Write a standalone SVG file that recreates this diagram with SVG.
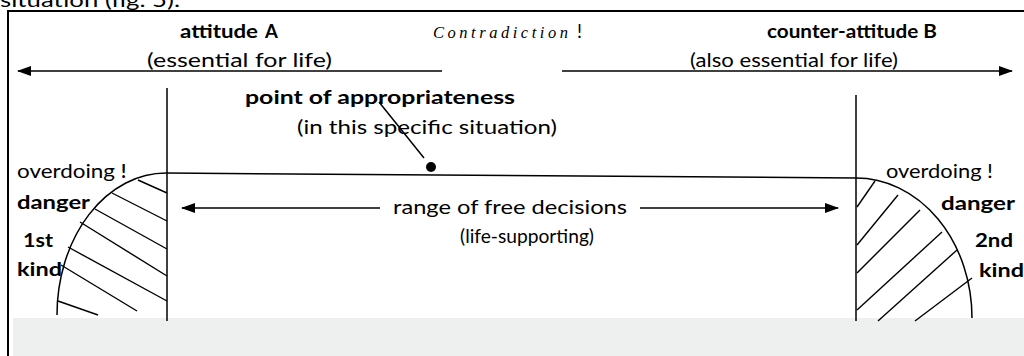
<svg xmlns="http://www.w3.org/2000/svg" width="1024" height="356" viewBox="0 0 1024 356">
  <style>
    text { font-family: Lato, "Open Sans", "Liberation Sans", sans-serif; fill: #000; }
    .n { font-size: 18.5px; }
    .b { font-size: 18.5px; font-weight: bold; }
    .it { font-family: "Liberation Serif", serif; font-style: italic; font-size: 16.5px; }
    .ln { stroke: #000; stroke-width: 1.5; fill: none; }
    .hatch { stroke: #000; stroke-width: 1.4; fill: none; }
  </style>
  <defs>
    <marker id="arrow" viewBox="0 0 14 10" refX="13" refY="5" markerWidth="14" markerHeight="10" markerUnits="userSpaceOnUse" orient="auto">
      <path d="M0,0 L14,5 L0,10 Z" fill="#000"/>
    </marker>
  </defs>

  <rect width="1024" height="356" fill="#fff"/>
  <!-- shaded strip along the bottom -->
  <rect x="13" y="318" width="1011" height="38" fill="#eeefef"/>
  <!-- frame (left and top edges) -->
  <path d="M8,356 V11 H1024" stroke="#000" stroke-width="2" fill="none"/>

  <!-- caption line running above the frame -->
  <text class="n" x="0" y="7" textLength="180" lengthAdjust="spacingAndGlyphs">situation (fig. 5).</text>

  <g id="attitude-a">
    <text class="b" x="180" y="38" textLength="78" lengthAdjust="spacingAndGlyphs">attitude</text>
    <text class="b" x="265" y="38">A</text>
    <text class="n" x="147" y="67" textLength="185" lengthAdjust="spacingAndGlyphs">(essential for life)</text>
  </g>

  <g id="contradiction">
    <text class="it" x="433" y="38" textLength="135" lengthAdjust="spacing">Contradiction</text>
    <text class="n" x="577" y="38">!</text>
  </g>

  <g id="attitude-b">
    <text class="b" x="767" y="38" textLength="170" lengthAdjust="spacingAndGlyphs">counter-attitude B</text>
    <text class="n" x="690" y="67" textLength="208" lengthAdjust="spacingAndGlyphs">(also essential for life)</text>
  </g>

  <g id="appropriateness">
    <text class="b" x="245" y="104" textLength="270" lengthAdjust="spacingAndGlyphs">point of appropriateness</text>
    <text class="n" x="297" y="134" textLength="260" lengthAdjust="spacingAndGlyphs">(in this specific situation)</text>
    <circle cx="431" cy="167" r="5" fill="#000"/>
  </g>

  <g id="range">
    <text class="n" x="393" y="214" textLength="234" lengthAdjust="spacingAndGlyphs">range of free decisions</text>
    <text class="n" x="460" y="243" textLength="134" lengthAdjust="spacingAndGlyphs">(life-supporting)</text>
  </g>

  <g id="danger-1">
    <text class="n" x="17" y="178" textLength="98" lengthAdjust="spacingAndGlyphs">overdoing</text>
    <text class="b" x="121" y="178">!</text>
    <text class="b" x="17" y="209" textLength="73" lengthAdjust="spacingAndGlyphs">danger</text>
    <text class="b" x="23" y="247" textLength="30" lengthAdjust="spacingAndGlyphs">1st</text>
    <text class="b" x="17" y="276" textLength="45" lengthAdjust="spacingAndGlyphs">kind</text>
    <path class="ln" d="M166,173 A109,142 0 0 0 57,315"/>
    <g class="hatch">
      <line x1="138" y1="180" x2="167" y2="193"/>
      <line x1="112" y1="193" x2="167" y2="221"/>
      <line x1="95" y1="209" x2="167" y2="249"/>
      <line x1="80" y1="222" x2="167" y2="276"/>
      <line x1="68" y1="247" x2="167" y2="301"/>
      <line x1="61" y1="265" x2="137" y2="311"/>
      <line x1="58" y1="301" x2="98" y2="315"/>
    </g>
  </g>

  <g id="danger-2">
    <text class="n" x="886" y="178" textLength="107" lengthAdjust="spacingAndGlyphs">overdoing !</text>
    <text class="b" x="941" y="210" textLength="74" lengthAdjust="spacingAndGlyphs">danger</text>
    <text class="b" x="975" y="247" textLength="38" lengthAdjust="spacingAndGlyphs">2nd</text>
    <text class="b" x="979" y="277" textLength="45" lengthAdjust="spacingAndGlyphs">kind</text>
    <path class="ln" d="M856,178 A116,140 0 0 1 972,318"/>
    <g class="hatch">
      <line x1="857" y1="207" x2="875" y2="181"/>
      <line x1="857" y1="245" x2="898" y2="195"/>
      <line x1="857" y1="273" x2="920" y2="210"/>
      <line x1="857" y1="310" x2="942" y2="232"/>
      <line x1="878" y1="321" x2="957" y2="250"/>
      <line x1="915" y1="321" x2="972" y2="278"/>
    </g>
  </g>

  <g id="connectors">
    <!-- opposing directions of the two attitudes -->
    <line class="ln" x1="442" y1="71" x2="18" y2="71" marker-end="url(#arrow)"/>
    <line class="ln" x1="562" y1="71" x2="1012" y2="71" marker-end="url(#arrow)"/>
    <!-- limits of the free range -->
    <line class="ln" x1="167" y1="88" x2="167" y2="321"/>
    <line class="ln" x1="856" y1="95" x2="856" y2="321"/>
    <!-- the balance line between the two limits -->
    <line class="ln" x1="166" y1="173" x2="856" y2="178"/>
    <!-- pointer from label to the point -->
    <line class="ln" x1="379" y1="102" x2="424" y2="158"/>
    <!-- range of free decisions -->
    <line class="ln" x1="380" y1="208" x2="182" y2="208" marker-end="url(#arrow)"/>
    <line class="ln" x1="640" y1="208" x2="838" y2="208" marker-end="url(#arrow)"/>
  </g>
</svg>
